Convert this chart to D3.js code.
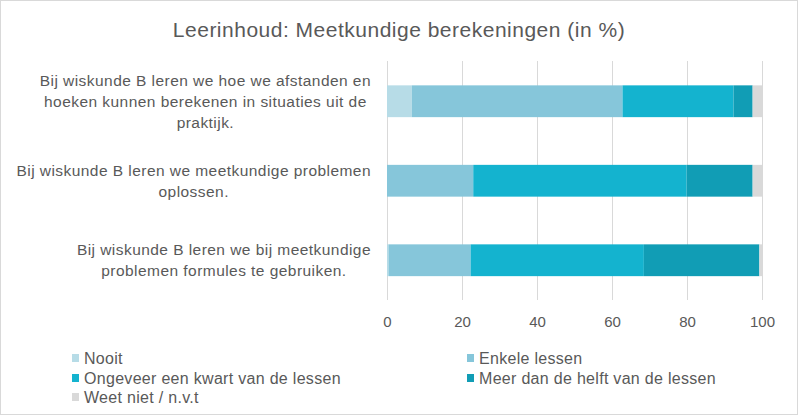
<!DOCTYPE html>
<html><head><meta charset="utf-8">
<script src="https://cdn.jsdelivr.net/npm/d3@7"></script>
<style>body{margin:0;background:#fff}svg{display:block}</style>
</head><body>
<script>
const title = "Leerinhoud: Meetkundige berekeningen (in %)";
const categories = [
  ["Bij wiskunde B leren we hoe we afstanden en", "hoeken kunnen berekenen in situaties uit de", "praktijk."],
  ["Bij wiskunde B leren we meetkundige problemen", "oplossen."],
  ["Bij wiskunde B leren we bij meetkundige", "problemen formules te gebruiken."]
];
const seriesNames = ["Nooit", "Enkele lessen", "Ongeveer een kwart van de lessen", "Meer dan de helft van de lessen", "Weet niet / n.v.t"];
const nooit    = [6.6, 0, 0.4];
const enkele   = [56.2, 23.0, 21.9];
const kwart    = [29.6, 56.9, 46.2];
const helft    = [5.1, 17.6, 30.8];
const weetNiet = [2.5, 2.5, 0.7];
const tickValues = [0, 20, 40, 60, 80, 100];
const colors = ["#b7dce7", "#86c6da", "#14b3cf", "#119db5", "#d9d9d9"];

const W = 798, H = 415;
const svg = d3.select("body").append("svg").attr("width", W).attr("height", H);
svg.append("rect").attr("x",0.5).attr("y",0.5).attr("width",W-1).attr("height",H-1)
  .attr("fill","#fff").attr("stroke","#d9d9d9");

const textColor = "#595959";
const font = "'Liberation Sans', Arial, sans-serif";

svg.append("text").attr("x", 399).attr("y", 30).attr("dy","0.35em").attr("text-anchor","middle")
  .attr("font-family", font).attr("font-size", 21).attr("letter-spacing", 0.5)
  .attr("fill", textColor).text(title);

const x = d3.scaleLinear().domain([0,100]).range([387, 762]);
const y = d3.scaleBand().domain(d3.range(categories.length)).range([61.5, 300]).paddingInner(0.6).paddingOuter(0.3);

// gridlines
svg.append("g").selectAll("line").data(tickValues).join("line")
  .attr("x1", d=>Math.round(x(d))+0.5).attr("x2", d=>Math.round(x(d))+0.5)
  .attr("y1", 61).attr("y2", 300).attr("stroke","#d9d9d9").attr("stroke-width",1);

// axis
const axis = d3.axisBottom(x).tickValues(tickValues).tickSize(0).tickPadding(0);
const ax = svg.append("g").attr("transform","translate(0,316)").call(axis);
ax.select(".domain").remove();
ax.selectAll("text").attr("font-family", font).attr("font-size", 15).attr("fill", textColor).attr("dy","0.71em");

// stacked data
const series = [nooit, enkele, kwart, helft, weetNiet];
const rows = categories.map((c,i)=>{ const o={i}; seriesNames.forEach((s,k)=>o[s]=series[k][i]); return o; });
const stack = d3.stack().keys(seriesNames)(rows);

svg.append("g").selectAll("g").data(stack).join("g").attr("fill",(d,k)=>colors[k])
  .selectAll("rect").data(d=>d).join("rect")
  .attr("x", d=>x(d[0])).attr("width", d=>Math.max(0, x(d[1])-x(d[0])))
  .attr("y", d=>y(d.data.i)).attr("height", y.bandwidth());

// category labels
const lab = svg.append("g");
categories.forEach((lines,i)=>{
  const cy = y(i) + y.bandwidth()/2;
  const lh = 21;
  const g = lab.append("g");
  const texts = lines.map((l,j)=> g.append("text")
    .attr("y", cy + (j - (lines.length-1)/2)*lh).attr("dy","0.35em")
    .attr("font-family", font).attr("font-size", 15.5).attr("letter-spacing", 0.45)
    .attr("fill", textColor).attr("text-anchor","middle").text(l));
  const maxW = d3.max(texts, t=>t.node().getComputedTextLength());
  const cx = 371 - maxW/2;
  texts.forEach(t=>t.attr("x", cx));
});

// legend
const legPos = [[72,358],[467,358],[72,378],[467,378],[72,397]];
const leg = svg.append("g");
seriesNames.forEach((s,k)=>{
  const [lx,ly] = legPos[k];
  leg.append("rect").attr("x",lx).attr("y",ly-4).attr("width",7).attr("height",8).attr("fill",colors[k]);
  leg.append("text").attr("x",lx+12).attr("y",ly).attr("dy","0.35em")
    .attr("font-family", font).attr("font-size", 16).attr("letter-spacing", 0.3)
    .attr("fill", textColor).text(s);
});
</script>
</body></html>
